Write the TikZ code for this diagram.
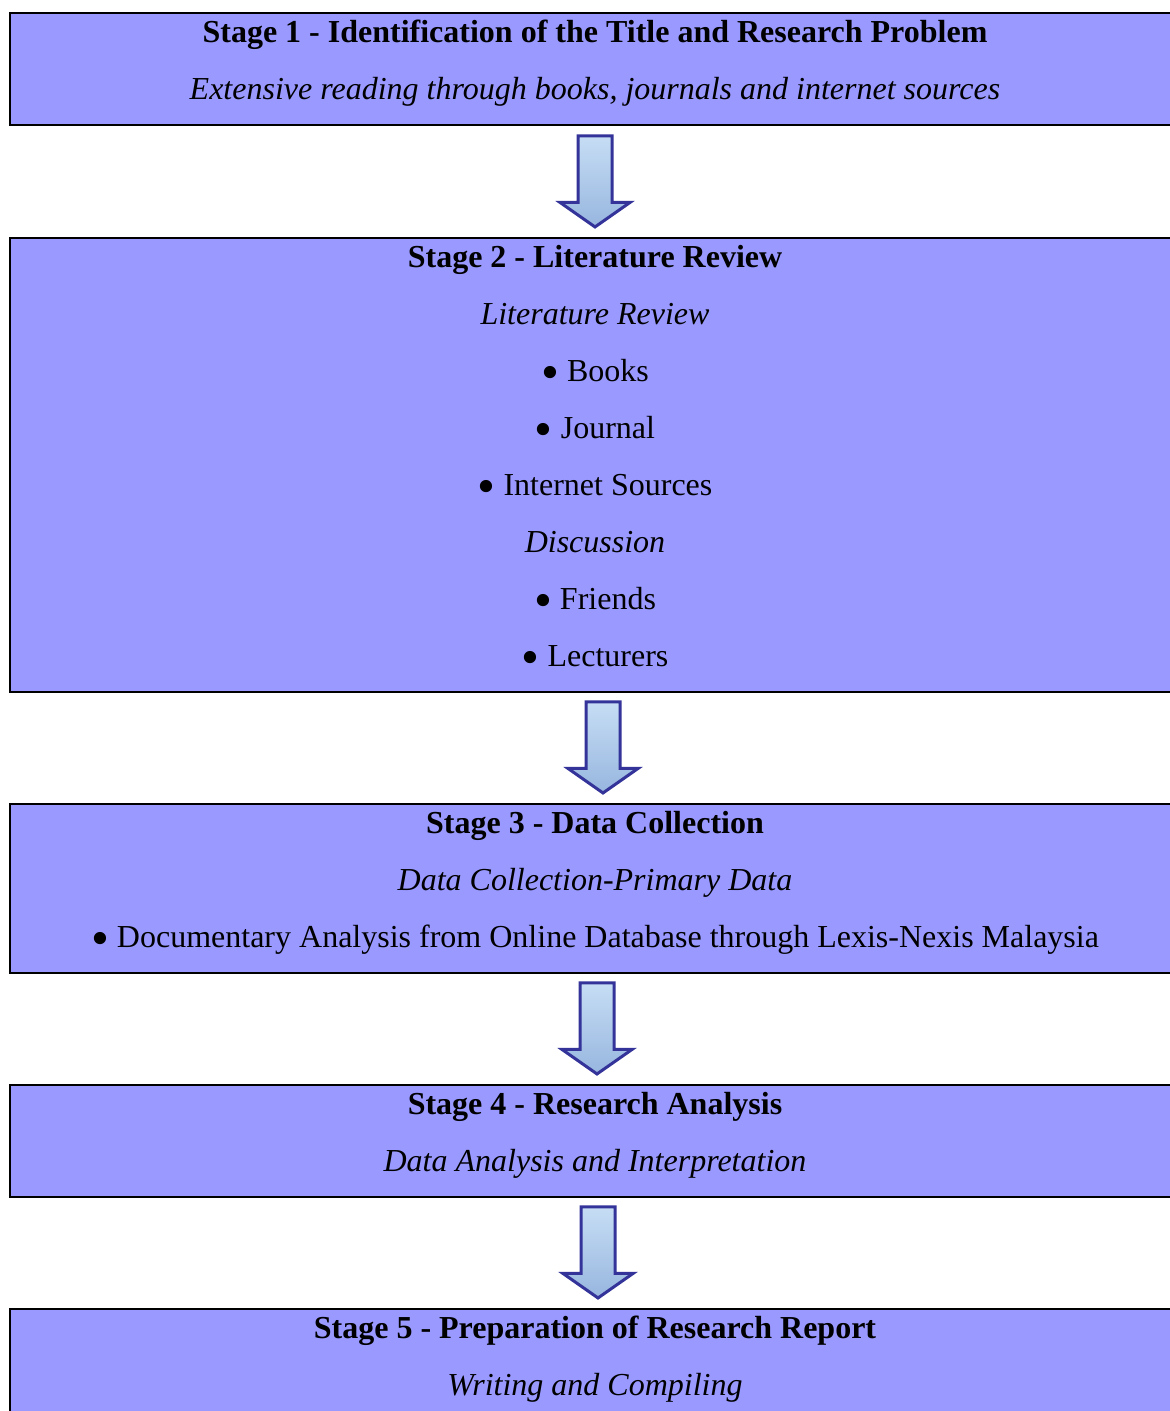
\documentclass[tikz,border=0pt]{standalone}
\usepackage{fontspec}
\setmainfont{Liberation Serif}
\usetikzlibrary{positioning}
\usetikzlibrary{shapes.arrows}
\usetikzlibrary{calc}
\definecolor{stagefill}{HTML}{9999FF}
\definecolor{flowline}{HTML}{333399}
\definecolor{flowtop}{HTML}{C6DDF4}
\definecolor{flowbot}{HTML}{97B6DF}
\newcommand{\stl}{\rule[-10.6pt]{0pt}{22.8pt}}
\newcommand{\itm}[1]{\stl\raisebox{-3.3pt}{\scalebox{1.6}{\textbullet}}\ #1}
\tikzset{
  stage/.style={draw, fill=stagefill, line width=0.8pt, minimum width=468pt,
    inner xsep=0pt, inner ysep=-0.4pt, outer sep=0pt, align=center,
    font=\fontsize{12.8}{22.8}\selectfont},
  flow/.style={single arrow, shape border rotate=270, draw=flowline, line width=1.2pt,
    top color=flowtop, bottom color=flowbot, minimum height=36.4pt,
    single arrow head extend=7.2pt, single arrow tip angle=110,
    inner xsep=6.2pt, inner ysep=0pt, yshift=2.4pt}
}
\begin{document}
\begin{tikzpicture}[x=0.4pt, y=-0.4pt, node distance=44.8pt]
  \useasboundingbox (0,0) rectangle (1170,1411);
  \node[stage, anchor=north] (s1) at (595,13.5) {\stl\textbf{Stage 1 - Identification of the Title and Research Problem}\\
    \stl\textit{Extensive reading through books, journals and internet sources}}; %
  \node[stage, below=of s1] (s2) {\stl\textbf{Stage 2 - Literature Review}\\
    \stl\textit{Literature Review}\\ \itm{Books}\\ \itm{Journal}\\ \itm{Internet Sources}\\
    \stl\textit{Discussion}\\ \itm{Friends}\\ \itm{Lecturers}}; %
  \node[stage, below=of s2] (s3) {\stl\textbf{Stage 3 - Data Collection}\\
    \stl\textit{Data Collection-Primary Data}\\
    \itm{Documentary Analysis from Online Database through Lexis-Nexis Malaysia}}; %
  \node[stage, below=of s3] (s4) {\stl\textbf{Stage 4 - Research Analysis}\\
    \stl\textit{Data Analysis and Interpretation}}; %
  \node[stage, below=of s4] (s5) {\stl\textbf{Stage 5 - Preparation of Research Report}\\
    \stl\textit{Writing and Compiling}}; %
  \node[flow] (f1) at ($(s1.south)!0.5!(s2.north)$) {}; %
  \node[flow, xshift=3.2pt] (f2) at ($(s2.south)!0.5!(s3.north)$) {}; %
  \node[flow, xshift=0.8pt] (f3) at ($(s3.south)!0.5!(s4.north)$) {}; %
  \node[flow, xshift=1.2pt] (f4) at ($(s4.south)!0.5!(s5.north)$) {}; %
\end{tikzpicture}
\end{document}
